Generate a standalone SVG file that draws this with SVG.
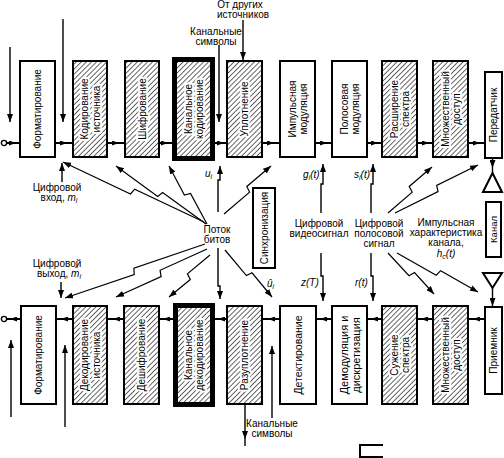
<svg xmlns="http://www.w3.org/2000/svg" width="504" height="458" viewBox="0 0 504 458">
<defs>
<pattern id="h" width="3.6" height="3.6" patternUnits="userSpaceOnUse" patternTransform="rotate(45)">
<rect width="3.6" height="3.6" fill="#fff"/>
<line x1="0" y1="0" x2="0" y2="3.6" stroke="#000" stroke-width="1.2"/>
</pattern>
<marker id="a" viewBox="0 0 8 6" refX="8" refY="3" markerWidth="8" markerHeight="6" markerUnits="userSpaceOnUse" orient="auto"><path d="M0,0 L8,3 L0,6 z" fill="#000"/></marker>
<marker id="m" viewBox="0 0 7 5" refX="7" refY="2.5" markerWidth="7" markerHeight="5" markerUnits="userSpaceOnUse" orient="auto"><path d="M0,0 L7,2.5 L0,5 z" fill="#000"/></marker>
<style>
.box{fill:#fff;stroke:#000;stroke-width:2}
.hat{fill:url(#h);stroke:#000;stroke-width:2}
.thick{stroke-width:5}
.t{font-family:"Liberation Sans",Arial,sans-serif;font-size:10px;fill:#000}
.c{text-anchor:middle}
.r{text-anchor:middle;dominant-baseline:central}
.halo{paint-order:stroke;stroke:#fff;stroke-width:4;stroke-linejoin:round}
.i{font-style:italic}
.conn{fill:none;stroke:#000;stroke-width:2;marker-mid:url(#m)}
.ln{fill:none;stroke:#000;stroke-width:1.4;marker-end:url(#a)}
.lm{fill:none;stroke:#000;stroke-width:1.4;marker-mid:url(#a)}
.ray{fill:none;stroke:#000;stroke-width:1.2;stroke-linejoin:miter;marker-end:url(#a)}
</style>
</defs>
<rect width="504" height="458" fill="#fff"/>

<!-- top row -->
<g id="fmt-tx"><rect class="box" x="20" y="61" width="35" height="96"/><text class="t r" transform="translate(37.5,109) rotate(-90)">Форматирование</text></g>
<g id="src-enc"><rect class="hat" x="73" y="61" width="34" height="96"/><text class="t r halo" transform="translate(84.5,109) rotate(-90)">Кодирование</text><text class="t r halo" transform="translate(96,109) rotate(-90)">источника</text></g>
<g id="encrypt"><rect class="hat" x="125" y="61" width="34" height="96"/><text class="t r halo" transform="translate(142,109) rotate(-90)">Шифрование</text></g>
<g id="ch-enc"><rect class="hat thick" x="174.5" y="59.5" width="38" height="99"/><text class="t r halo" transform="translate(188,109) rotate(-90)">Канальное</text><text class="t r halo" transform="translate(199,109) rotate(-90)">кодирование</text></g>
<g id="mux"><rect class="hat" x="227" y="61" width="35" height="96"/><text class="t r halo" transform="translate(244.5,109) rotate(-90)">Уплотнение</text></g>
<g id="pulse-mod"><rect class="box" x="280" y="61" width="35" height="96"/><text class="t r" transform="translate(292,109) rotate(-90)">Импульсная</text><text class="t r" transform="translate(303,109) rotate(-90)">модуляция</text></g>
<g id="bp-mod"><rect class="box" x="332" y="61" width="35" height="96"/><text class="t r" transform="translate(344,109) rotate(-90)">Полосовая</text><text class="t r" transform="translate(355,109) rotate(-90)">модуляция</text></g>
<g id="spread"><rect class="hat" x="382" y="61" width="35" height="96"/><text class="t r halo" transform="translate(394,109) rotate(-90)">Расширение</text><text class="t r halo" transform="translate(405,109) rotate(-90)">спектра</text></g>
<g id="ma-tx"><rect class="hat" x="433" y="61" width="35" height="96"/><text class="t r halo" transform="translate(445,109) rotate(-90)">Множественный</text><text class="t r halo" transform="translate(456,109) rotate(-90)">доступ</text></g>
<g id="xmt"><rect class="box" x="485" y="72" width="17" height="86"/><text class="t r" transform="translate(493.5,115) rotate(-90)">Передатчик</text></g>

<!-- bottom row -->
<g id="fmt-rx"><rect class="box" x="21" y="306" width="35" height="98"/><text class="t r" transform="translate(38.5,355) rotate(-90)">Форматирование</text></g>
<g id="src-dec"><rect class="hat" x="73" y="306" width="34" height="98"/><text class="t r halo" transform="translate(84.5,355) rotate(-90)">Декодирование</text><text class="t r halo" transform="translate(96,355) rotate(-90)">источника</text></g>
<g id="decrypt"><rect class="hat" x="124" y="306" width="35" height="98"/><text class="t r halo" transform="translate(141.5,355) rotate(-90)">Дешифрование</text></g>
<g id="ch-dec"><rect class="hat thick" x="175.5" y="305.5" width="37" height="99"/><text class="t r halo" transform="translate(188,355) rotate(-90)">Канальное</text><text class="t r halo" transform="translate(199,355) rotate(-90)">декодирование</text></g>
<g id="demux"><rect class="hat" x="227" y="306" width="35" height="98"/><text class="t r halo" transform="translate(244.5,355) rotate(-90)">Разуплотнение</text></g>
<g id="detect"><rect class="box" x="280" y="306" width="36" height="98"/><text class="t r" transform="translate(298,355) rotate(-90)" style="font-size:10.5px">Детектирование</text></g>
<g id="demod"><rect class="box" x="332" y="306" width="35" height="98"/><text class="t r" transform="translate(344,355) rotate(-90)" style="font-size:11px">Демодуляция и</text><text class="t r" transform="translate(355.5,355) rotate(-90)" style="font-size:11px">дискретизация</text></g>
<g id="despread"><rect class="hat" x="382" y="306" width="35" height="98"/><text class="t r halo" transform="translate(394,355) rotate(-90)">Сужение</text><text class="t r halo" transform="translate(405,355) rotate(-90)">спектра</text></g>
<g id="ma-rx"><rect class="hat" x="433" y="306" width="35" height="98"/><text class="t r halo" transform="translate(445,355) rotate(-90)">Множественный</text><text class="t r halo" transform="translate(456,355) rotate(-90)">доступ</text></g>
<g id="rcv"><rect class="box" x="485" y="307" width="17" height="87"/><text class="t r" transform="translate(493.5,350.5) rotate(-90)">Приемник</text></g>

<!-- channel side -->
<g id="ant-tx"><polygon points="492.5,173 483,192 502,192" fill="#fff" stroke="#000" stroke-width="2"/></g>
<g id="channel"><rect class="box" x="486" y="202" width="15" height="55"/><text class="t r" transform="translate(493.5,229.5) rotate(-90)" style="font-size:9.5px">Канал</text></g>
<g id="ant-rx"><polygon points="483,273 502,273 492.5,288" fill="#fff" stroke="#000" stroke-width="2"/></g>
<g id="sync"><rect class="box" x="253" y="188" width="22" height="80"/><text class="t r" transform="translate(264,228) rotate(-90)">Синхронизация</text></g>

<!-- connectors -->
<g id="connectors">
<circle cx="4" cy="143" r="2.6" fill="#fff" stroke="#000" stroke-width="1.4"/>
<path class="conn" d="M7,143 L16,143 L20,143"/>
<path class="conn" d="M55,143 L67,143 L73,143"/>
<path class="conn" d="M107,143 L119,143 L125,143"/>
<path class="conn" d="M159,143 L168,143 L172,143"/>
<path class="conn" d="M215,143 L224,143 L227,143"/>
<path class="conn" d="M262,143 L274,143 L280,143"/>
<path class="conn" d="M315,143 L327,143 L332,143"/>
<path class="conn" d="M367,143 L378,143 L382,143"/>
<path class="conn" d="M417,143 L429,143 L433,143"/>
<path class="conn" d="M468,143 L480,143 L485,143"/>

<circle cx="4" cy="319" r="2.6" fill="#fff" stroke="#000" stroke-width="1.4"/>
<path class="conn" d="M485,319 L473,319 L468,319"/>
<path class="conn" d="M433,319 L421,319 L417,319"/>
<path class="conn" d="M382,319 L371,319 L367,319"/>
<path class="conn" d="M332,319 L320,319 L316,319"/>
<path class="conn" d="M280,319 L268,319 L262,319"/>
<path class="conn" d="M227,319 L218,319 L215,319"/>
<path class="conn" d="M173,319 L163,319 L159,319"/>
<path class="conn" d="M124,319 L113,319 L107,319"/>
<path class="conn" d="M73,319 L61,319 L56,319"/>
<path class="conn" d="M21,319 L10,319 L7,319"/>

<path class="ln" d="M10,47 V122"/>
<path class="ln" d="M63,19 V122"/>
<path class="ln" d="M62,182 V163"/>
<path class="ln" d="M61,282 V298"/>
<path class="ln" d="M219,45 V122"/>
<path class="ln" d="M243,20 V60"/>
<path class="lm" d="M492.5,158 L492.5,168 L492.5,173"/>
<path class="ln" d="M492.5,288 V306"/>
<path class="ln" d="M11,417 V340"/>
<path class="ln" d="M65,427 V345"/>
<path class="lm" d="M245,404 L245,439 L245,446"/>
<path class="ln" d="M272,418 V346"/>

<path class="ln" d="M218,212 V180 H220 V166"/>
<path class="ln" d="M218,248 V286 H220 V299"/>
<path class="ln" d="M321,213 V184 H323 V164"/>
<path class="ln" d="M371,213 V184 H373 V164"/>
<path class="ln" d="M321,253 V276 H323 V301"/>
<path class="ln" d="M371,253 V276 H373 V301"/>

<polyline class="ray" points="204,222 134.7,189.2 130.5,194 63,162"/>
<polyline class="ray" points="206,224 162.6,192.5 157.7,196.4 116,166"/>
<polyline class="ray" points="207,224 190.5,193.4 184.4,195 169,166"/>
<polyline class="ray" points="224,214 249.6,192.1 246.8,186.5 271,166"/>
<polyline class="ray" points="388,213 412.2,192.1 409.2,186.5 432,167"/>
<polyline class="ray" points="395,213 438,191.6 436.7,185.4 478,165"/>
<polyline class="ray" points="205,244 133.9,268.2 134.2,274.5 65,298"/>
<polyline class="ray" points="207,249 160.1,270.3 161.1,276.6 116,297"/>
<polyline class="ray" points="210,255 187.4,273.9 190.3,279.5 169,297"/>
<polyline class="ray" points="225,250 246.4,275.6 252,272.8 272,297"/>
<polyline class="ray" points="388,253 409,275.7 414.5,272.6 434,294"/>
<polyline class="ray" points="397,253 436.2,275.2 440.6,270.7 478,292"/>
</g>

<!-- labels -->
<g id="labels">
<text class="t c" x="240" y="8">От других</text>
<text class="t c" x="243" y="18">источников</text>
<text class="t c" x="216" y="35">Канальные</text>
<text class="t c" x="216" y="45">символы</text>
<text class="t c" x="57" y="191">Цифровой</text>
<text class="t c" x="59" y="201">вход, <tspan class="i">m</tspan><tspan class="i" font-size="7" dy="2">i</tspan></text>
<text class="t c" x="57" y="267">Цифровой</text>
<text class="t c" x="59" y="277">выход, <tspan class="i">m̂</tspan><tspan class="i" font-size="7" dy="2">i</tspan></text>
<text class="t c" x="217" y="233">Поток</text>
<text class="t c" x="217" y="243">битов</text>
<text class="t i" x="205" y="177">u<tspan font-size="7" dy="2">i</tspan></text>
<text class="t i" x="267" y="287">û<tspan font-size="7" dy="2">i</tspan></text>
<text class="t i" x="303" y="178">g<tspan font-size="7" dy="2">i</tspan><tspan dy="-2">(t)</tspan></text>
<text class="t i" x="354" y="178">s<tspan font-size="7" dy="2">i</tspan><tspan dy="-2">(t)</tspan></text>
<text class="t i" x="301" y="286">z(T)</text>
<text class="t i" x="355" y="286">r(t)</text>
<text class="t c" x="319" y="227">Цифровой</text>
<text class="t c" x="319" y="237">видеосигнал</text>
<text class="t c" x="379" y="227">Цифровой</text>
<text class="t c" x="379" y="237">полосовой</text>
<text class="t c" x="379" y="247">сигнал</text>
<text class="t c" x="446" y="226">Импульсная</text>
<text class="t c" x="446" y="236">характеристика</text>
<text class="t c" x="446" y="246">канала,</text>
<text class="t c i" x="446" y="257">h<tspan font-size="7" dy="1.5">c</tspan><tspan dy="-1.5">(t)</tspan></text>
<text class="t c" x="272" y="427">Канальные</text>
<text class="t c" x="272" y="437">символы</text>
</g>
<path d="M383,445 H360 V457 H383" fill="none" stroke="#000" stroke-width="2"/>
</svg>
